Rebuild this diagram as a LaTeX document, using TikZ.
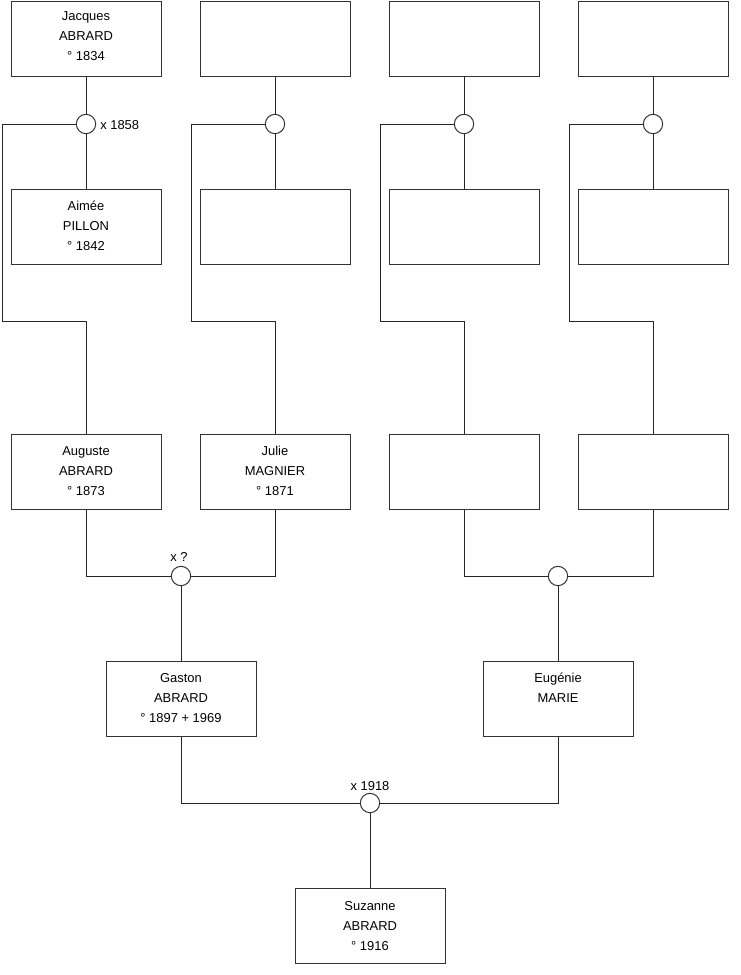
\documentclass[tikz,border=0pt]{standalone}
\usepackage{fontspec}
\setmainfont{Liberation Sans}
\begin{document}
\begin{tikzpicture}[x=0.75pt,y=-0.75pt,
  every node/.style={font=\fontsize{9.7}{15}\selectfont},
  person/.style={draw=black!80,line width=0.75pt,rectangle,minimum width=112.5pt,minimum height=56.25pt,inner sep=0pt},
  ptext/.style={anchor=north,align=center,inner sep=0pt},
  union/.style={draw=black!80,line width=0.75pt,circle,minimum size=14.5pt,inner sep=0pt,fill=white},
  link/.style={draw=black!85,line width=0.75pt},
  ulabel/.style={inner sep=0pt}]
\useasboundingbox (0,0) rectangle (740,975);
% row 1
\node[person] (a1) at (86,38.5) {};
\node[person] (a2) at (275,38.5) {};
\node[person] (a3) at (464,38.5) {};
\node[person] (a4) at (653,38.5) {};
% row 2
\node[person] (b1) at (86,226.5) {};
\node[person] (b2) at (275,226.5) {};
\node[person] (b3) at (464,226.5) {};
\node[person] (b4) at (653,226.5) {};
% row 3
\node[person] (c1) at (86,472) {};
\node[person] (c2) at (275,472) {};
\node[person] (c3) at (464,472) {};
\node[person] (c4) at (653,472) {};
% row 4
\node[person] (d1) at (181,699) {};
\node[person] (d2) at (558,699) {};
% row 5
\node[person] (e1) at (370,926) {};
% texts
\node[ptext] (ta1) at (86,6) {\strut Jacques\\ABRARD\\° 1834};
\node[ptext] (tb1) at (86,196) {\strut Aimée\\PILLON\\° 1842};
\node[ptext] (tc1) at (86,441) {\strut Auguste\\ABRARD\\° 1873};
\node[ptext] (tc2) at (275,441) {\strut Julie\\MAGNIER\\° 1871};
\node[ptext] (td1) at (181,668) {\strut Gaston\\ABRARD\\° 1897 + 1969};
\node[ptext] (td2) at (558,668) {\strut Eugénie\\MARIE};
\node[ptext] (te1) at (370,896) {\strut Suzanne\\ABRARD\\° 1916};
% union circles
\foreach \i/\x/\l in {1/86/2,2/275/191,3/464/380,4/653/569}{
  \draw[link] (a\i.south) -- (b\i.north);
  \draw[link] (\l,124) -- (\x,124);
  \draw[link] (\l,124) -- (\l,321) -- (\x,321) -- (c\i.north);
  \node[union] (u\i) at (\x,124) {};
}
\draw[link] (c1.south) -- (86,576) -- (275,576) -- (c2.south);
\draw[link] (c3.south) -- (464,576) -- (653,576) -- (c4.south);
\draw[link] (d1.south) -- (181,803) -- (558,803) -- (d2.south);
\node[union] (m1) at (181,576) {};
\node[union] (m2) at (558,576) {};
\node[union] (m3) at (370,803) {};
\draw[link] (m1.south) -- (d1.north);
\draw[link] (m2.south) -- (d2.north);
\draw[link] (m3.south) -- (e1.north);
% labels
\node[ulabel,anchor=base west] (l1) at (100,129) {x 1858};
\node[ulabel,anchor=base] (l2) at (179,561) {x ?};
\node[ulabel,anchor=base] (l3) at (370,790) {x 1918};
\end{tikzpicture}
\end{document}
